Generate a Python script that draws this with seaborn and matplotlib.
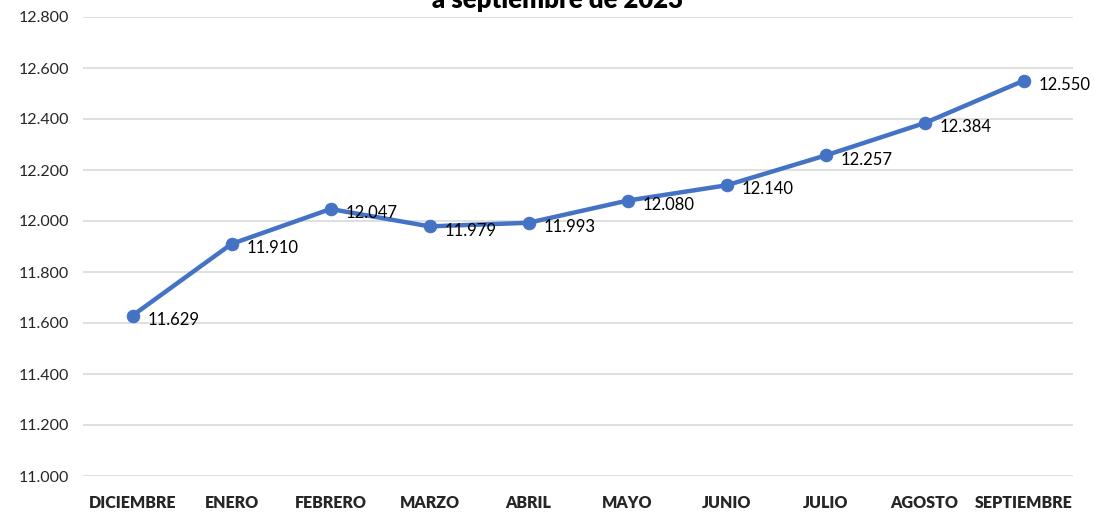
import matplotlib
matplotlib.use("Agg")
import matplotlib.pyplot as plt
import seaborn as sns
import pandas as pd
from matplotlib.ticker import FuncFormatter

months = ["DICIEMBRE", "ENERO", "FEBRERO", "MARZO", "ABRIL", "MAYO",
          "JUNIO", "JULIO", "AGOSTO", "SEPTIEMBRE"]
values = [11629, 11910, 12047, 11979, 11993, 12080, 12140, 12257, 12384, 12550]
title_text = "a septiembre de 2023"

sns.set_theme(style="white")
plt.rcParams['font.family'] = ['Lato', 'DejaVu Sans']

df = pd.DataFrame({"mes": months, "valor": values})
df["x"] = range(len(df))

fig = plt.figure(figsize=(10.95, 5.17), dpi=100)
ax = fig.add_axes([83/1095, 1-476/517, (1073-83)/1095, (476-17)/517])

sns.lineplot(data=df, x="x", y="valor", ax=ax, color="#4472C4", linewidth=3.2,
             marker="o", markersize=9, markeredgecolor="#4472C4",
             markerfacecolor="#4472C4", zorder=3)

fmt = lambda v: f"{int(round(v)):,}".replace(",", ".")
for xi, v in zip(df["x"], df["valor"]):
    ax.annotate(fmt(v), (xi, v), xytext=(11, -3), textcoords="offset points",
                ha="left", va="center", fontsize=12, color="#000000", zorder=4)

ax.set_xlim(-0.5, len(months) - 0.5)
ax.set_ylim(11000, 12800)
ax.set_yticks(range(11000, 12801, 200))
ax.yaxis.set_major_formatter(FuncFormatter(lambda v, p: fmt(v)))
ax.set_xticks(df["x"])
ax.set_xticklabels(months, fontweight="heavy", fontsize=11.5)
ax.tick_params(axis="x", length=0, pad=14)
ax.tick_params(axis="y", length=0, pad=10, labelsize=11.5)
ax.grid(axis="y", color="#d9d9d9", linewidth=1.2, zorder=0)
ax.grid(axis="x", visible=False)
for s in ax.spines.values():
    s.set_visible(False)
ax.set_xlabel("")
ax.set_ylabel("")

fig.text(558/1095, 1-8/517, title_text, ha="center", va="baseline",
         fontsize=18.5, fontweight="heavy", color="#000000")

fig.savefig("out.png", dpi=100)
